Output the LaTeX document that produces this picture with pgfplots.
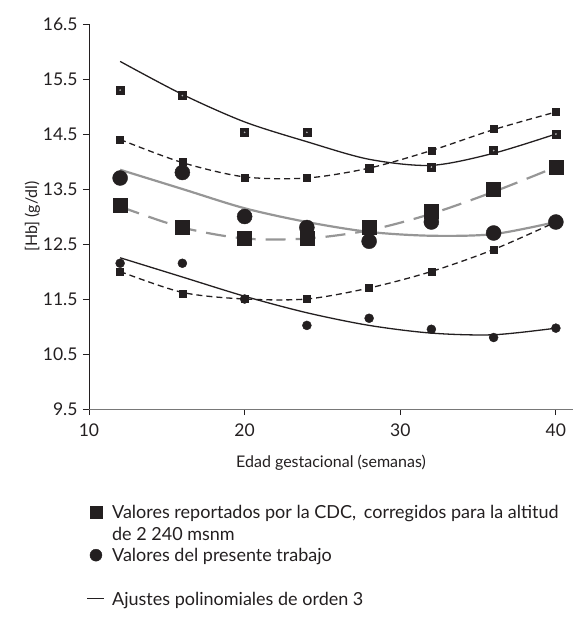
\documentclass[border=0pt]{standalone}
\usepackage{fontspec}
\setmainfont{Lato}
\usepackage{pgfplots}
\pgfplotsset{compat=1.18}
\definecolor{ink}{RGB}{35,31,32}
\definecolor{fitgray}{RGB}{150,150,150}
\begin{document}
\begin{tikzpicture}
\useasboundingbox (-89pt,-221pt) rectangle (494pt,409pt);
\begin{axis}[
    scale only axis,
    width=484pt, height=385pt,
    xmin=10, xmax=41.1, ymin=9.5, ymax=16.5,
    axis x line*=bottom, axis y line*=left,
    axis line style={-, ink, line width=0.9pt},
    x axis line style={fitgray!80!black},
    xtick={10,20,30,40},
    ytick={9.5,10.5,11.5,12.5,13.5,14.5,15.5,16.5},
    yticklabel style={xshift=-2pt, /pgf/number format/.cd, fixed, fixed zerofill, precision=1},
    /pgf/number format/assume math mode=true,
    tick style={ink, line width=0.8pt},
    tick align=outside, major tick length=6pt,
    ticklabel style={font=\fontsize{17.5}{20}\selectfont, text=ink},
    xticklabel style={yshift=-5pt},
    xlabel={Edad gestacional (semanas)},
    ylabel={[Hb] (g/dl)},
    label style={font=\fontsize{16}{19}\selectfont, text=ink},
    xlabel style={yshift=-12pt},
    ylabel style={yshift=-4pt},
    clip=false,
    legend style={draw=none, fill=none, at={(axis description cs:-0.005,-0.235)}, anchor=north west,
        font=\fontsize{18}{21}\selectfont, text=ink, row sep=1.5pt, column sep=5pt,
        inner xsep=0pt},
    legend cell align=left,
]
% fits
\addplot[ink, line width=1.3pt, smooth, forget plot] coordinates {
(12,15.82) (16,15.22) (20,14.72) (24,14.36) (28,14.04) (32,13.93) (36,14.15) (40,14.5)};
\addplot[ink, line width=1.3pt, dash pattern=on 6pt off 4pt, smooth, forget plot] coordinates {
(12,14.4) (16,13.98) (20,13.72) (24,13.7) (28,13.88) (32,14.2) (36,14.58) (40,14.9)};
\addplot[fitgray, line width=2.2pt, dash pattern=on 20pt off 10pt, smooth, forget plot] coordinates {
(12,13.18) (16,12.8) (20,12.6) (24,12.6) (28,12.75) (32,13.05) (36,13.45) (40,13.9)};
\addplot[fitgray, line width=2.2pt, smooth, forget plot] coordinates {
(12,13.85) (16,13.5) (20,13.15) (24,12.9) (28,12.72) (32,12.65) (36,12.68) (40,12.9)};
\addplot[ink, line width=1.3pt, dash pattern=on 6pt off 4pt, smooth, forget plot] coordinates {
(12,12.0) (16,11.62) (20,11.5) (24,11.5) (28,11.7) (32,12.0) (36,12.4) (40,12.9)};
\addplot[ink, line width=1.3pt, smooth, forget plot] coordinates {
(12,12.25) (16,11.9) (20,11.55) (24,11.25) (28,11.02) (32,10.88) (36,10.85) (40,10.97)};
% points
\addplot[only marks, mark=square*, mark size=4pt, ink, forget plot] coordinates {
(12,15.3) (16,15.2) (20,14.53) (24,14.53) (28,13.88) (32,13.9) (36,14.2) (40,14.5)};
\addplot[only marks, mark=*, mark size=0.6pt, gray!60, forget plot] coordinates {
(12,15.3) (16,15.2) (20,14.53) (24,14.53) (28,13.88) (32,13.9) (36,14.2) (40,14.5)};
\addplot[only marks, mark=square*, mark size=3.5pt, ink, forget plot] coordinates {
(12,14.4) (16,14.0) (20,13.7) (24,13.7) (28,13.87) (32,14.2) (36,14.6) (40,14.9)};
\addplot[only marks, mark=square*, mark size=7pt, ink, forget plot] coordinates {
(12,13.2) (16,12.8) (20,12.6) (24,12.6) (28,12.8) (32,13.1) (36,13.5) (40,13.9)};
\addplot[only marks, mark=*, mark size=7.5pt, ink, forget plot] coordinates {
(12,13.7) (16,13.8) (20,13.0) (24,12.8) (28,12.55) (32,12.9) (36,12.7) (40,12.9)};
\addplot[only marks, mark=square*, mark size=3.5pt, ink, forget plot] coordinates {
(12,12.0) (16,11.6) (20,11.5) (24,11.5) (28,11.7) (32,12.0) (36,12.4) (40,12.9)};
\addplot[only marks, mark=*, mark size=4.5pt, ink, forget plot] coordinates {
(12,12.15) (16,12.15) (20,11.5) (24,11.02) (28,11.15) (32,10.95) (36,10.8) (40,10.97)};
% legend
\addlegendimage{only marks, mark=square*, mark size=6pt, ink}
\addlegendentry{\strut Valores reportados por la CDC,\, corregidos para la altitud}
\addlegendimage{empty legend}
\addlegendentry{\strut de 2 240 msnm}
\addlegendimage{only marks, mark=*, mark size=6pt, ink}
\addlegendentry{\strut Valores del presente trabajo}
\addlegendimage{empty legend}
\addlegendentry{\strut}
\addlegendimage{ink, line width=1.3pt}
\addlegendentry{\strut Ajustes polinomiales de orden 3}
\end{axis}
\end{tikzpicture}
\end{document}
